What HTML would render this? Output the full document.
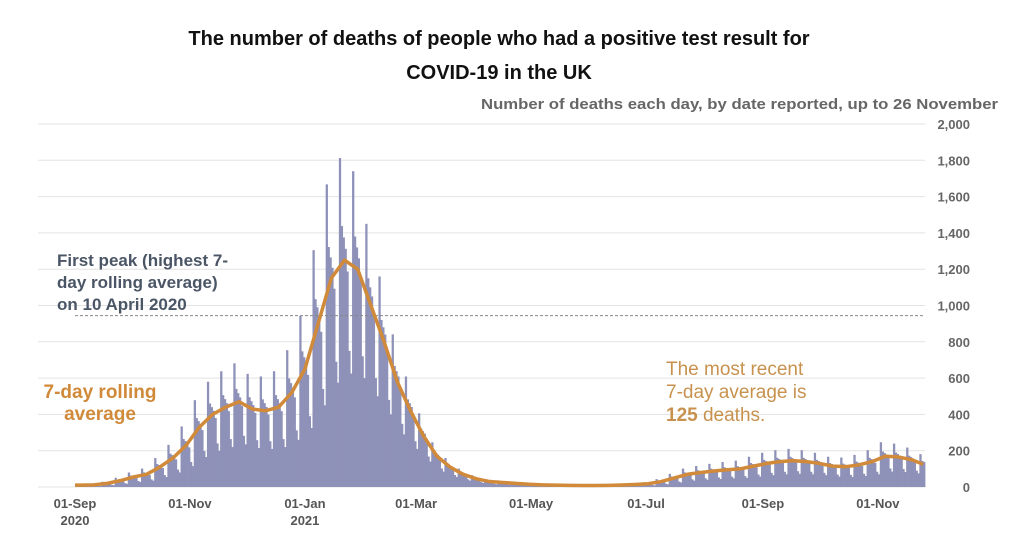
<!DOCTYPE html>
<html><head><meta charset="utf-8"><style>
body{margin:0;background:#fff;width:1024px;height:533px;overflow:hidden;font-family:"Liberation Sans",sans-serif}
</style></head><body>
<svg id="chart" width="1024" height="533" viewBox="0 0 1024 533">
<text x="499" y="45" text-anchor="middle" font-size="20" font-weight="bold" fill="#111">The number of deaths of people who had a positive test result for</text>
<text x="499" y="79" text-anchor="middle" font-size="20" font-weight="bold" fill="#111">COVID-19 in the UK</text>
<text x="998" y="109" text-anchor="end" font-size="15" font-weight="bold" fill="#666" textLength="517" lengthAdjust="spacingAndGlyphs">Number of deaths each day, by date reported, up to 26 November</text>
<g id="grid"></g><g id="bars"></g><g id="overlay"></g>
<text x="57" y="266" font-size="17" font-weight="bold" fill="#4a5566"><tspan x="57">First peak (highest 7-</tspan><tspan x="57" dy="22">day rolling average)</tspan><tspan x="57" dy="22">on 10 April 2020</tspan></text>
<text x="100" y="398" text-anchor="middle" font-size="19" font-weight="bold" fill="#d08a3a"><tspan x="100">7-day rolling</tspan><tspan x="100" dy="22">average</tspan></text>
<text x="666" y="375" font-size="19" fill="#c8924e"><tspan x="666">The most recent</tspan><tspan x="666" dy="23">7-day average is</tspan><tspan x="666" dy="23" font-weight="bold">125</tspan><tspan> deaths.</tspan></text>
</svg>
<script>
const weeklyAvg=[10,12,20,35,55,70,110,160,230,330,400,440,470,430,420,440,520,650,900,1150,1250,1200,1000,800,580,420,280,170,110,70,45,30,25,20,15,12,10,9,8,8,9,11,14,18,30,50,70,80,88,95,100,115,130,140,145,140,130,115,112,122,140,170,165,150,125];
const weekdayFactor=[1.45,1.15,1.1,1.05,0.95,0.6,0.5];
const firstPeak=944;
const yTicks=[0,200,400,600,800,1000,1200,1400,1600,1800,2000];
const xTickLabels=["01-Sep","01-Nov","01-Jan","01-May","01-Jul","01-Sep","01-Nov","01-Mar"];
const xTickDays=[0,61,122,242,303,365,426,181];
const yearLabels=["2020","2021"];const yearDays=[0,122];
const nDays=451;
const X=d=>75+d*(850/nDays), Y=v=>487-v*0.1815;
const ns="http://www.w3.org/2000/svg";
function mk(t,a,p){const e=document.createElementNS(ns,t);for(const k in a)e.setAttribute(k,a[k]);p.appendChild(e);return e;}
const grid=document.getElementById('grid'),bars=document.getElementById('bars'),ov=document.getElementById('overlay');
yTicks.forEach(v=>{
 const l=mk('line',{x1:38,x2:925,y1:Y(v),y2:Y(v),stroke:'#e3e3e3','stroke-width':1},grid);
 
 
 const t=mk('text',{x:970,y:Y(v)+5,'text-anchor':'end','font-size':13,'font-weight':'bold',fill:'#666'},grid);
 t.textContent=v.toLocaleString('en-US');
 
 
});
const bw=850/nDays;
for(let d=0;d<nDays;d++){
 const v=weeklyAvg[Math.floor(d/7)]*weekdayFactor[d%7];
 const r=mk('rect',{x:X(d),y:Y(v),width:bw+0.4,height:487-Y(v),fill:'#8e91b8'},bars);
 
 
}
const dl=mk('line',{x1:75,x2:925,y1:Y(firstPeak),y2:Y(firstPeak),stroke:'#888','stroke-dasharray':'3,2','stroke-width':1},ov);


let pts=[];
pts.push([X(0),Y(weeklyAvg[0])]);
weeklyAvg.forEach((v,i)=>pts.push([X(Math.min(i*7+3,nDays-1)),Y(v)]));
const pl=mk('polyline',{points:pts.map(p=>p.join(',')).join(' '),fill:'none',stroke:'#d08a3a','stroke-width':3.5,'stroke-linejoin':'round'},ov);


xTickLabels.forEach((s,i)=>{
 const t=mk('text',{x:X(xTickDays[i]),y:508,'text-anchor':'middle','font-size':13,'font-weight':'bold',fill:'#555'},ov);
 t.textContent=s;
 
 
});
yearLabels.forEach((s,i)=>{
 const t=mk('text',{x:X(yearDays[i]),y:525,'text-anchor':'middle','font-size':13,'font-weight':'bold',fill:'#555'},ov);
 t.textContent=s;
 
 
});
</script>
</body></html>
